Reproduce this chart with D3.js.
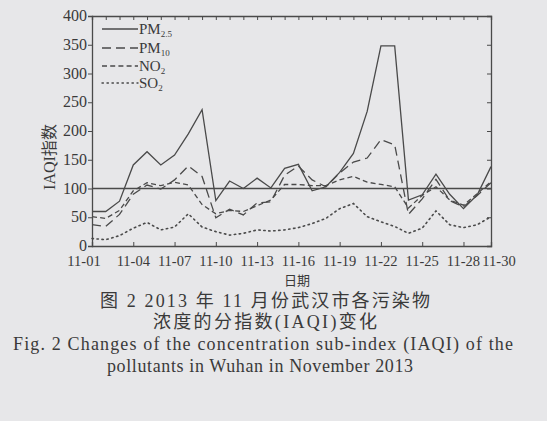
<!DOCTYPE html>
<html>
<head>
<meta charset="utf-8">
<script src="https://cdn.jsdelivr.net/npm/d3@7/dist/d3.min.js"></script>
<style>
  html, body { margin: 0; padding: 0; background: #e7e7e9; }
  svg { display: block; }
  text { fill: #3a3a3a; }
  .serif { font-family: "Liberation Serif", Tinos, "Times New Roman", Times, serif; }
  .mixed { font-family: "Liberation Serif", "Noto Sans CJK SC", serif; }
  .cjk { font-family: "Noto Sans CJK SC", sans-serif; }
</style>
</head>
<body>
<svg id="chart" width="547" height="421"></svg>
<script>
// November 2013, Wuhan: daily sub-index (IAQI) of each pollutant
const days = d3.range(1, 31);
const pm25 = [60, 60, 78, 141, 164, 141, 158, 195, 237, 79, 113, 100, 118, 101, 135, 142, 96, 103, 128, 161, 234, 348, 348, 80, 89, 125, 90, 65, 89, 138];
const pm10 = [37, 34, 55, 90, 106, 99, 115, 139, 121, 49, 64, 54, 75, 77, 123, 139, 115, 103, 127, 146, 153, 185, 176, 55, 82, 116, 79, 68, 88, 110];
const no2  = [51, 48, 62, 96, 110, 105, 111, 106, 72, 56, 62, 60, 70, 80, 107, 107, 105, 105, 115, 121, 111, 107, 103, 66, 88, 103, 80, 71, 91, 112];
const so2  = [13, 11, 18, 31, 41, 28, 33, 56, 33, 25, 19, 22, 28, 26, 28, 32, 39, 48, 65, 74, 51, 42, 34, 22, 31, 61, 37, 32, 37, 51];

const seriesNames = ["PM2.5", "PM10", "NO2", "SO2"];
const seriesSubs  = ["2.5", "10", "2", "2"];
const seriesBase  = ["PM", "PM", "NO", "SO"];
const seriesData  = [pm25, pm10, no2, so2];
const seriesDash  = [null, "9,5", "5,3.2", "1.4,3.6"];

const xTickDays   = [1, 4, 7, 10, 13, 16, 19, 22, 25, 28, 30];
const xTickLabels = ["11-01", "11-04", "11-07", "11-10", "11-13", "11-16", "11-19", "11-22", "11-25", "11-28", "11-30"];
const yTicks = [0, 50, 100, 150, 200, 250, 300, 350, 400];

const ink = "#4a4a4a";
const svg = d3.select("#chart");
const plot = { left: 92, right: 491, top: 16, bottom: 246 };

const x = d3.scaleLinear().domain([1, 30]).range([plot.left, plot.right]);
const y = d3.scaleLinear().domain([0, 400]).range([plot.bottom, plot.top]);

const g = svg.append("g");

// bottom axis (ticks inward)
const xAxis = g.append("g").attr("transform", `translate(0,${plot.bottom})`)
  .call(d3.axisBottom(x).tickValues(xTickDays).tickSize(-4).tickFormat(""));
// top axis: a tick for every day
const xTop = g.append("g").attr("transform", `translate(0,${plot.top})`)
  .call(d3.axisTop(x).tickValues(days).tickSize(-4).tickFormat(""));
// left axis (ticks outward)
const yLeft = g.append("g").attr("transform", `translate(${plot.left},0)`)
  .call(d3.axisLeft(y).tickValues(yTicks).tickSize(4).tickFormat(""));
// right axis (ticks inward)
const yRight = g.append("g").attr("transform", `translate(${plot.right},0)`)
  .call(d3.axisRight(y).tickValues(yTicks).tickSize(-4).tickFormat(""));

[xAxis, xTop, yLeft, yRight].forEach(a => {
  a.selectAll("path.domain").attr("stroke", ink).attr("stroke-width", 1.3);
  a.selectAll(".tick line").attr("stroke", ink).attr("stroke-width", 1);
});

// tick labels
const xLabelShift = { 1: -8, 30: 8 };
g.append("g").selectAll("text").data(xTickDays).join("text")
  .attr("class", "serif")
  .attr("x", (d) => x(d) + (xLabelShift[d] || 0))
  .attr("y", plot.bottom + 20)
  .attr("text-anchor", "middle")
  .style("font-size", "14.5px")
  .text((d, i) => xTickLabels[i]);

g.append("g").selectAll("text").data(yTicks).join("text")
  .attr("class", "serif")
  .attr("x", plot.left - 5)
  .attr("y", (d) => y(d) + 5)
  .attr("text-anchor", "end")
  .style("font-size", "16px")
  .text((d) => d);

// axis titles
g.append("text")
  .attr("class", "mixed")
  .attr("transform", `translate(55,157) rotate(-90)`)
  .attr("text-anchor", "middle")
  .style("font-size", "16px")
  .text("IAQI指数");

g.append("text")
  .attr("class", "cjk")
  .attr("x", 297).attr("y", 285)
  .attr("text-anchor", "middle")
  .style("font-size", "13px")
  .text("日期");

// reference line at IAQI = 100
g.append("line")
  .attr("x1", plot.left).attr("x2", plot.right)
  .attr("y1", y(100)).attr("y2", y(100))
  .attr("stroke", ink).attr("stroke-width", 1.3);

// pollutant lines
const line = d3.line().x((d, i) => x(days[i])).y((d) => y(d));
seriesData.forEach((vals, k) => {
  g.append("path")
    .datum(vals)
    .attr("d", line)
    .attr("fill", "none")
    .attr("stroke", ink)
    .attr("stroke-width", k === 3 ? 1.6 : 1.3)
    .attr("stroke-linecap", k === 3 ? "round" : "butt")
    .attr("stroke-dasharray", seriesDash[k]);
});

// legend
const legend = g.append("g");
const legendY = [29, 48, 66, 83];
seriesNames.forEach((name, k) => {
  legend.append("line")
    .attr("x1", 102).attr("x2", 138)
    .attr("y1", legendY[k]).attr("y2", legendY[k])
    .attr("stroke", ink)
    .attr("stroke-width", k === 3 ? 1.4 : 1.3)
    .attr("stroke-linecap", k === 3 ? "round" : "butt")
    .attr("stroke-dasharray", seriesDash[k]);
  const t = legend.append("text")
    .attr("class", "serif")
    .attr("x", 139).attr("y", legendY[k] + 5)
    .style("font-size", "15px");
  t.append("tspan").text(seriesBase[k]);
  t.append("tspan").attr("dy", 3).style("font-size", "9px").text(seriesSubs[k]);
});

// figure caption
const cap = svg.append("g");
cap.append("text").attr("class", "mixed")
  .attr("x", 265).attr("y", 307).attr("text-anchor", "middle")
  .attr("textLength", 330).attr("lengthAdjust", "spacing")
  .style("font-size", "18px")
  .text("图 2  2013 年 11 月份武汉市各污染物");
cap.append("text").attr("class", "mixed")
  .attr("x", 265).attr("y", 328).attr("text-anchor", "middle")
  .attr("textLength", 224).attr("lengthAdjust", "spacing")
  .style("font-size", "18px")
  .text("浓度的分指数(IAQI)变化");
cap.append("text").attr("class", "serif")
  .attr("x", 263).attr("y", 350).attr("text-anchor", "middle")
  .attr("textLength", 500).attr("lengthAdjust", "spacing")
  .style("font-size", "18px")
  .text("Fig. 2   Changes of the concentration sub-index (IAQI) of the");
cap.append("text").attr("class", "serif")
  .attr("x", 260).attr("y", 372).attr("text-anchor", "middle")
  .attr("textLength", 306).attr("lengthAdjust", "spacing")
  .style("font-size", "18px")
  .text("pollutants in Wuhan in November 2013");
</script>
</body>
</html>
